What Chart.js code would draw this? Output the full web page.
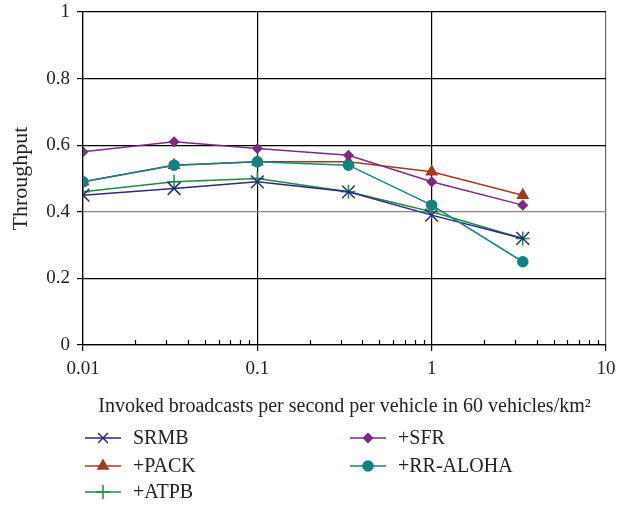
<!DOCTYPE html>
<html>
<head>
<meta charset="utf-8">
<script src="https://cdn.jsdelivr.net/npm/chart.js"></script>
<style>
  body { margin: 0; background: #fff; }
  canvas { display: block; }
</style>
</head>
<body>
<canvas id="chart" width="630" height="507"></canvas>
<script>
// broadcast rates (log x axis)
const rates = [0.01, 0.0333, 0.1, 0.333, 1, 3.33];

const srmb    = [0.45, 0.47, 0.49, 0.46, 0.39, 0.32];
const pack    = [0.49, 0.54, 0.55, 0.55, 0.52, 0.45];
const atpb    = [0.46, 0.49, 0.50, 0.46, 0.40, 0.32];
const sfr     = [0.58, 0.61, 0.59, 0.57, 0.49, 0.42];
const rrAloha = [0.49, 0.54, 0.55, 0.54, 0.42, 0.25];

const seriesNames = ['SRMB', '+PACK', '+ATPB', '+SFR', '+RR-ALOHA'];

const xMajorTicks = [0.01, 0.1, 1, 10];
const xMinorTicks = [0.02, 0.03, 0.04, 0.05, 0.06, 0.07, 0.08, 0.09,
                     0.2, 0.3, 0.4, 0.5, 0.6, 0.7, 0.8, 0.9,
                     2, 3, 4, 5, 6, 7, 8, 9];
const yTicks = [0, 0.2, 0.4, 0.6, 0.8, 1];

const serif = "'Liberation Serif', 'DejaVu Serif', serif";

function pts(vals) {
  return vals.map((v, i) => ({ x: rates[i], y: v }));
}

const styles = [
  { color: '#2b2b7d', point: 'crossRot', radius: 9, order: 1 },
  { color: '#a33a22', point: 'triangle', radius: 6, order: 4 },
  { color: '#218a3e', point: 'cross', radius: 7, order: 2 },
  { color: '#7b2b80', point: 'rectRot', radius: 4.5, order: 3 },
  { color: '#148282', point: 'circle', radius: 5, order: 0 }
];

const allSeries = [srmb, pack, atpb, sfr, rrAloha];

const datasets = allSeries.map((vals, i) => ({
  label: seriesNames[i],
  data: pts(vals),
  borderColor: styles[i].color,
  backgroundColor: styles[i].color,
  borderWidth: 1.5,
  pointStyle: styles[i].point,
  pointRadius: styles[i].radius,
  pointBorderWidth: 1.5,
  pointBackgroundColor: styles[i].color,
  pointBorderColor: styles[i].color,
  order: styles[i].order,
  tension: 0
}));

// minor ticks on the log axis point inwards
const minorTicks = {
  id: 'minorTicks',
  afterDraw(chart) {
    const ctx = chart.ctx;
    const xs = chart.scales.x;
    const bottom = chart.chartArea.bottom;
    ctx.save();
    ctx.strokeStyle = '#000';
    ctx.lineWidth = 1.2;
    xMinorTicks.forEach(v => {
      const px = Math.round(xs.getPixelForValue(v)) + 0.5;
      ctx.beginPath();
      ctx.moveTo(px, bottom);
      ctx.lineTo(px, bottom - 5);
      ctx.stroke();
    });
    ctx.restore();
  }
};

// two-column legend below the axis title
const columnLegend = {
  id: 'columnLegend',
  afterDraw(chart) {
    const ctx = chart.ctx;
    const colX = [85, 350];
    const rowY = [438, 466, 492];
    ctx.save();
    ctx.font = '20px ' + serif;
    ctx.textBaseline = 'middle';
    chart.data.datasets.forEach((ds, i) => {
      const col = i < 3 ? 0 : 1;
      const row = i < 3 ? i : i - 3;
      const x = colX[col], y = rowY[row];
      ctx.strokeStyle = ds.borderColor;
      ctx.fillStyle = ds.borderColor;
      ctx.lineWidth = 1.5;
      ctx.beginPath();
      ctx.moveTo(x, y);
      ctx.lineTo(x + 36, y);
      ctx.stroke();
      Chart.helpers.drawPoint(ctx, {
        pointStyle: ds.pointStyle,
        radius: Math.min(ds.pointRadius, 7),
        borderWidth: ds.pointBorderWidth,
        rotation: 0
      }, x + 18, y);
      ctx.fillStyle = '#222';
      ctx.fillText(ds.label, x + 48, y + 1);
    });
    ctx.restore();
  }
};

new Chart(document.getElementById('chart'), {
  type: 'line',
  data: { datasets },
  plugins: [minorTicks, columnLegend],
  options: {
    responsive: false,
    animation: false,
    layout: { padding: { top: 12, right: 24, bottom: 87, left: 0 } },
    plugins: {
      legend: { display: false },
      tooltip: { enabled: false }
    },
    scales: {
      x: {
        type: 'logarithmic',
        min: 0.01,
        max: 10,
        afterBuildTicks(scale) {
          scale.ticks = xMajorTicks.concat(xMinorTicks)
            .sort((a, b) => a - b)
            .map(v => ({ value: v, major: xMajorTicks.includes(v) }));
        },
        afterFit(scale) { scale.height = 75; },
        ticks: {
          autoSkip: false,
          maxRotation: 0,
          padding: 7,
          color: '#222',
          font: { family: serif, size: 19 },
          callback(value) {
            return xMajorTicks.includes(value) ? String(value) : '';
          }
        },
        grid: {
          lineWidth: 1.2,
          tickLength: 6,
          color(ctx) {
            const v = ctx.tick && ctx.tick.value;
            if (v === 10) return '#666';
            return xMajorTicks.includes(v) ? '#000' : 'rgba(0,0,0,0)';
          },
          tickColor(ctx) {
            const v = ctx.tick && ctx.tick.value;
            return xMajorTicks.includes(v) ? '#000' : 'rgba(0,0,0,0)';
          }
        },
        border: { display: true, color: '#000', width: 1.2 },
        title: {
          display: true,
          text: 'Invoked broadcasts per second per vehicle in 60 vehicles/km²',
          color: '#222',
          font: { family: serif, size: 20 },
          padding: { top: 0, bottom: 1 }
        }
      },
      y: {
        min: 0,
        max: 1,
        afterBuildTicks(scale) {
          scale.ticks = yTicks.map(v => ({ value: v }));
        },
        afterFit(scale) {
          scale.width = 83;
          scale.paddingTop = 0;
          scale.paddingBottom = 0;
        },
        ticks: {
          padding: 7,
          color: '#222',
          font: { family: serif, size: 19 },
          callback(value) { return String(value); }
        },
        grid: {
          lineWidth: 1.2,
          tickLength: 6,
          color(ctx) {
            return ctx.tick && ctx.tick.value === 0.4 ? '#888' : '#000';
          },
          tickColor: '#000'
        },
        border: { display: true, color: '#000', width: 1.2 },
        title: {
          display: true,
          text: 'Throughput',
          color: '#222',
          font: { family: serif, size: 22 },
          padding: { top: 8, bottom: 0 }
        }
      }
    }
  }
});
</script>
</body>
</html>
